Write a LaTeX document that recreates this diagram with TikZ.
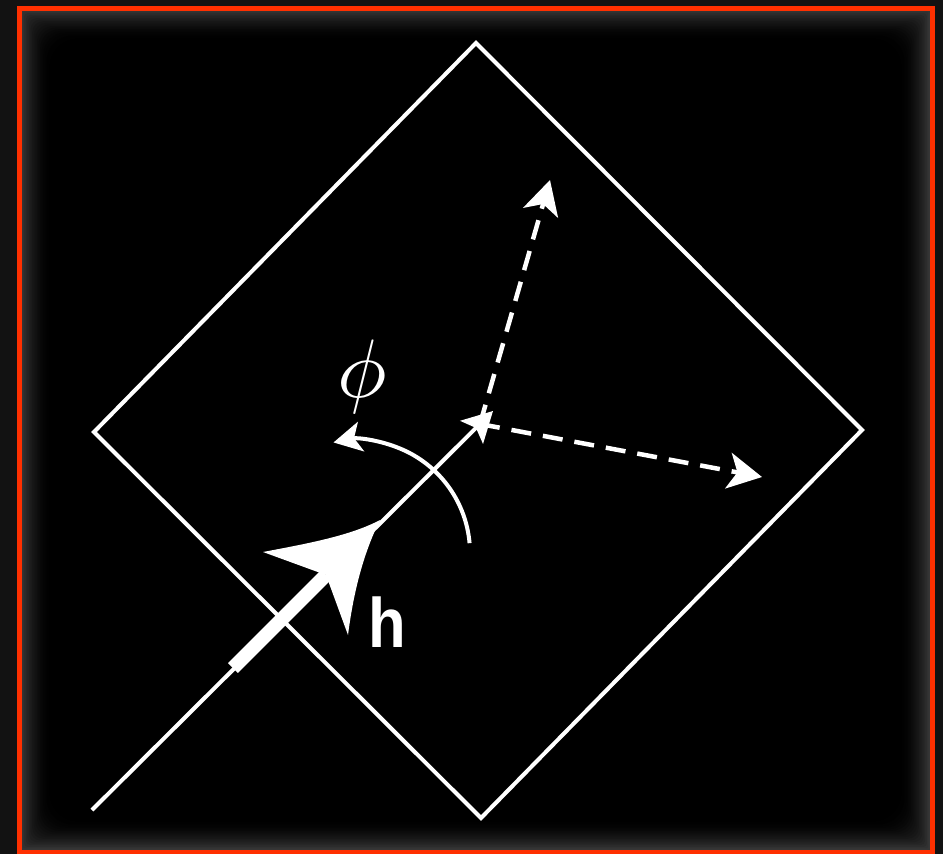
\documentclass[tikz,border=0pt]{standalone}
\usepackage{fontspec}
\newfontfamily\hfont{Liberation Sans}
\usetikzlibrary{arrows.meta}
\definecolor{bordercol}{RGB}{255,48,0}
\definecolor{outerbg}{RGB}{18,18,18}
\tikzset{
  wline/.style={draw=white,line width=4pt},
  dashedarrow/.style={draw=white,line width=4.5pt,dash pattern=on 20pt off 12pt,
    -{Stealth[length=34pt,width=36pt,inset=9pt,sep=0pt]}},
  arcarrow/.style={draw=white,line width=4pt,-{Stealth[length=28pt,width=30pt,inset=7pt]}},
  labeltext/.style={text=white,inner sep=0pt}
}
\begin{document}
\begin{tikzpicture}[x=1pt,y=-1pt]
\useasboundingbox (0,0) rectangle (943,854);
% background
\fill[outerbg] (0,0) rectangle (943,854);
% inner glow as nested fills
\foreach \i in {0,...,18}{
  \pgfmathsetmacro\p{21*(1-\i/18)^1.7}
  \fill[white!\p!black,rounded corners=1.6*\i pt]
    (21+1.6*\i,10+1.6*\i) rectangle (930-1.6*\i,850-1.6*\i);
}
\draw[bordercol,line width=5pt] (19.5,8.5) rectangle (932,852);
% diamond
\coordinate (dT) at (476,43);
\coordinate (dR) at (862,430);
\coordinate (dB) at (481,818);
\coordinate (dL) at (94,432);
\draw[wline,line join=miter] (dT) -- (dR) -- (dB) -- (dL) -- cycle;
% main line
\coordinate (lineStart) at (92,810);
\coordinate (ctr) at (480,424);
\coordinate (lineTip) at (493,411);
\draw[wline,-{Stealth[length=30pt,width=32pt,inset=6pt]}] (lineStart) -- (lineTip);
% dashed arrows
\coordinate (upTip) at (550,180);
\coordinate (rightTip) at (762,477);
\draw[dashedarrow] (ctr) -- (upTip);
\draw[dashedarrow] (ctr) -- (rightTip);
% arc arrow
\coordinate (arcC) at (357,553);
\draw[arcarrow] ([shift={(5:113pt)}]arcC) arc[start angle=5,end angle=102,radius=113pt];
% thick h arrow
\coordinate (hTail) at (233,668);
\coordinate (hNotch) at (326,575);
\coordinate (hTip) at (380,520);
\coordinate (hL) at (263,552);
\coordinate (hR) at (348,635);
\draw[white,line width=14pt] (hTail) -- (hNotch);
\fill[white] (hTip) .. controls (350,536) and (305,544) .. (hL)
  -- (hNotch) -- (hR) .. controls (352,604) and (360,560) .. (hTip) -- cycle;
% labels
\node[labeltext,scale=8.3] (phi) at (362,377) {$\phi$};
\node[labeltext,xscale=0.88] (hlab) at (387,622) {\hfont\bfseries\fontsize{70}{70}\selectfont h};
\end{tikzpicture}
\end{document}
